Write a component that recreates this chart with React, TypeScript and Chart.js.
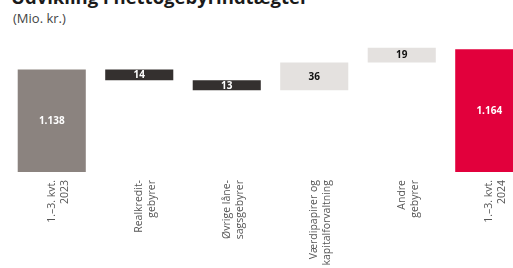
import React, { useEffect, useRef } from "react";
import { Chart, registerables } from "chart.js";

Chart.register(...registerables);

const titleText = "Udvikling i nettogebyrindtægter";
const unitText = "(Mio. kr.)";
const categories: string[][] = [
  ["1.–3. kvt.", "2023"],
  ["Realkredit-", "gebyrer"],
  ["Øvrige låne-", "sagsgebyrer"],
  ["Værdipapirer og", "kapitalforvaltning"],
  ["Andre", "gebyrer"],
  ["1.–3. kvt.", "2024"],
];
const changes: number[] = [1138, -14, -13, 36, 19, 1164];
const isTotal: boolean[] = [true, false, false, false, false, true];
const valueLabels: string[] = ["1.138", "14", "13", "36", "19", "1.164"];
const axisMin = 1005;
const axisMax = 1180;

const barColors = ["#8b837f", "#34302f", "#34302f", "#e4e1df", "#e4e1df", "#e2003c"];
const labelColors = ["#ffffff", "#ffffff", "#ffffff", "#111111", "#111111", "#ffffff"];

function buildFloating(): [number, number][] {
  const out: [number, number][] = [];
  let running = 0;
  changes.forEach((v, i) => {
    if (isTotal[i]) {
      out.push([axisMin, v]);
      running = v;
    } else {
      const next = running + v;
      out.push([Math.min(running, next), Math.max(running, next)]);
      running = next;
    }
  });
  return out;
}

const valueLabelPlugin = {
  id: "valueLabels",
  afterDatasetsDraw(chart: any) {
    const ctx = chart.ctx;
    const meta = chart.getDatasetMeta(0);
    ctx.save();
    ctx.font = "bold 10px 'Open Sans', sans-serif";
    ctx.textAlign = "center";
    ctx.textBaseline = "middle";
    meta.data.forEach((bar: any, i: number) => {
      const props = bar.getProps(["x", "y", "base"], true);
      const cy = (props.y + props.base) / 2;
      ctx.fillStyle = labelColors[i];
      ctx.fillText(valueLabels[i], props.x, cy + 0.5);
    });
    ctx.restore();
  },
};

export default function App() {
  const ref = useRef<HTMLCanvasElement | null>(null);
  useEffect(() => {
    if (!ref.current) return;
    const chart = new Chart(ref.current, {
      type: "bar",
      data: {
        labels: categories as any,
        datasets: [
          {
            data: buildFloating() as any,
            backgroundColor: barColors,
            borderWidth: 0,
            barPercentage: 1,
            categoryPercentage: 0.778,
          },
        ],
      },
      options: {
        responsive: false,
        animation: false,
        layout: { padding: { top: 37, left: 0, right: 0, bottom: 0 } },
        plugins: { legend: { display: false }, tooltip: { enabled: false }, title: { display: false } },
        scales: {
          x: {
            grid: { display: false, drawTicks: false },
            border: { display: false },
            ticks: {
              autoSkip: false,
              maxRotation: 90,
              minRotation: 90,
              padding: 8,
              color: "#555555",
              font: { family: "'Open Sans', sans-serif", size: 10.5, lineHeight: 1.25 },
            },
            afterFit: (scale: any) => {
              scale.height = 96;
            },
          },
          y: {
            display: false,
            min: axisMin,
            max: axisMax,
          },
        },
      },
      plugins: [valueLabelPlugin],
    });
    return () => chart.destroy();
  }, []);

  return (
    <div style={{ position: "absolute", left: 0, top: 0, width: 513, height: 268, overflow: "hidden", background: "#fff" }}>
      <div
        style={{
          position: "absolute",
          left: 11,
          top: -14,
          fontFamily: "'Open Sans', sans-serif",
          fontWeight: 700,
          fontSize: 18.5,
          lineHeight: "22px",
          color: "#1a1a1a",
          whiteSpace: "nowrap",
        }}
      >
        {titleText}
      </div>
      <div
        style={{
          position: "absolute",
          left: 13,
          top: 10,
          fontFamily: "'Open Sans', sans-serif",
          fontSize: 13,
          lineHeight: "16px",
          color: "#444",
          whiteSpace: "nowrap",
        }}
      >
        {unitText}
      </div>
      <canvas ref={ref} width={525} height={268} style={{ position: "absolute", left: 8, top: 0 }} />
    </div>
  );
}
